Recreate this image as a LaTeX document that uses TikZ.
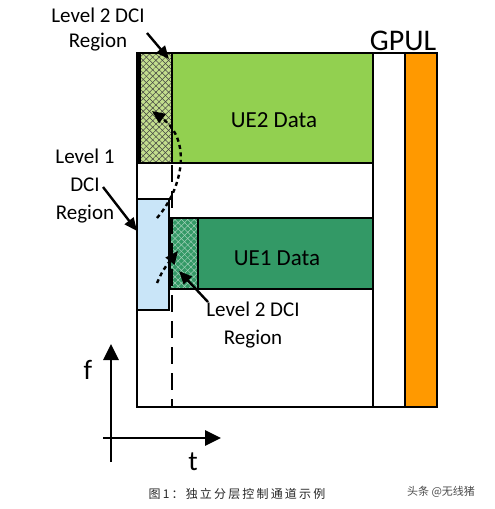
\documentclass[tikz,border=0pt]{standalone}
\usepackage{fontspec}
\setmainfont{Carlito}
\newfontfamily\cjk[LetterSpace=18]{Noto Sans CJK SC}
\newfontfamily\cjkw{Noto Sans CJK SC}
\usetikzlibrary{arrows.meta,patterns.meta}
\definecolor{lgreen}{HTML}{92D050}
\definecolor{hgreen}{HTML}{C3DE8E}
\definecolor{dgreen}{HTML}{339966}
\definecolor{lblue}{HTML}{C9E5F8}
\definecolor{orng}{HTML}{FF9900}
\begin{document}
\begin{tikzpicture}[x=1pt,y=-1pt,
  frame/.style={line width=2.6pt,line join=miter},
  lbl/.style={align=center,inner sep=0pt,font=\fontsize{21}{27}\selectfont},
  data/.style={inner sep=0pt,font=\fontsize{23}{23}\selectfont},
  arr/.style={line width=2.4pt,-{Triangle[length=13pt,width=11pt]}},
  dotarr/.style={line width=2.4pt,dash pattern=on 4pt off 3.5pt,-{Triangle[length=13pt,width=11pt]}},
  axisarr/.style={line width=2.8pt,-{Triangle[length=16pt,width=15pt]}},
  hatchA/.style={pattern={Lines[angle=45,distance=4.5pt,line width=0.5pt]}},
  hatchB/.style={pattern={Lines[angle=-45,distance=4.5pt,line width=0.5pt]}}]
\useasboundingbox (0,0) rectangle (495,509);
% fills
\fill[lgreen] (172,53) rectangle (373,163);
\fill[hgreen] (137,53) rectangle (172,163);
\fill[hatchA,pattern color=black!75] (137,53) rectangle (172,163);
\fill[hatchB,pattern color=black!75] (137,53) rectangle (172,163);
\fill[orng] (405,53) rectangle (437,407);
\fill[dgreen] (170,218) rectangle (373,289);
\fill[hatchA,pattern color=white!55!dgreen] (170,218) rectangle (198,289);
\fill[hatchB,pattern color=white!55!dgreen] (170,218) rectangle (198,289);
% frame lines
\draw[frame] (137,53) rectangle (437,407);
\draw[frame] (373,53) -- (373,407);
\draw[frame] (405,53) -- (405,407);
\draw[frame] (137,163) -- (373,163);
\draw[frame] (172,53) -- (172,163);
\draw[line width=4pt] (139,53) -- (139,163);
\draw[frame] (170,218) rectangle (373,289);
\draw[frame] (198,218) -- (198,289);
\draw[frame,fill=lblue] (137,199) rectangle (169,310);
\draw[line width=2.6pt,dash pattern=on 17pt off 9pt] (172,165) -- (172,407);
% texts
\node[data] (ue2) at (274,120) {UE2 Data};
\node[data] (ue1) at (277,258) {UE1 Data};
\node[inner sep=0pt,font=\fontsize{30}{30}\selectfont] (gpul) at (403,41) {GPUL};
\node[lbl,font=\fontsize{21}{25}\selectfont] (l2a) at (98,30) {Level 2 DCI\\Region};
\node[lbl,font=\fontsize{21}{28}\selectfont] (l1) at (85,186) {Level 1\\DCI\\Region};
\node[lbl,font=\fontsize{21}{28}\selectfont] (l2b) at (253,325) {Level 2 DCI\\Region};
% arrows
\coordinate (a1s) at (147,33); \coordinate (a1e) at (169,59);
\coordinate (a2s) at (103,187); \coordinate (a2e) at (137,231);
\coordinate (a3s) at (208,302); \coordinate (a3e) at (179,271);
\draw[arr] (a1s) -- (a1e);
\draw[arr] (a2s) -- (a2e);
\draw[arr] (a3s) -- (a3e);
% dotted curves
\coordinate (d1s) at (157,283); \coordinate (d1e) at (178,251);
\coordinate (d2s) at (157,218); \coordinate (d2e) at (152,111);
\draw[dotarr] (d1s) .. controls (163,270) .. (d1e);
\draw[dotarr] (d2s) .. controls (183,188) and (192,140) .. (d2e);
% axes
\coordinate (o1) at (111,462); \coordinate (fy) at (111,344);
\coordinate (o2) at (103,438); \coordinate (tx) at (221,438);
\draw[axisarr] (o1) -- (fy);
\draw[axisarr] (o2) -- (tx);
\node[inner sep=0pt,font=\fontsize{28}{28}\selectfont] (f) at (88,370) {f};
\node[inner sep=0pt,font=\fontsize{28}{28}\selectfont] (t) at (193,462) {t};
% caption
\node[inner sep=0pt,text=black!85,font=\fontsize{12}{12}\selectfont\cjk] (cap) at (237,494) {图1：独立分层控制通道示例};
\node[inner sep=0pt,text=black!70,font=\fontsize{11}{11}\selectfont\cjkw] (wm) at (441,492) {头条 @无线猪};
\end{tikzpicture}
\end{document}
